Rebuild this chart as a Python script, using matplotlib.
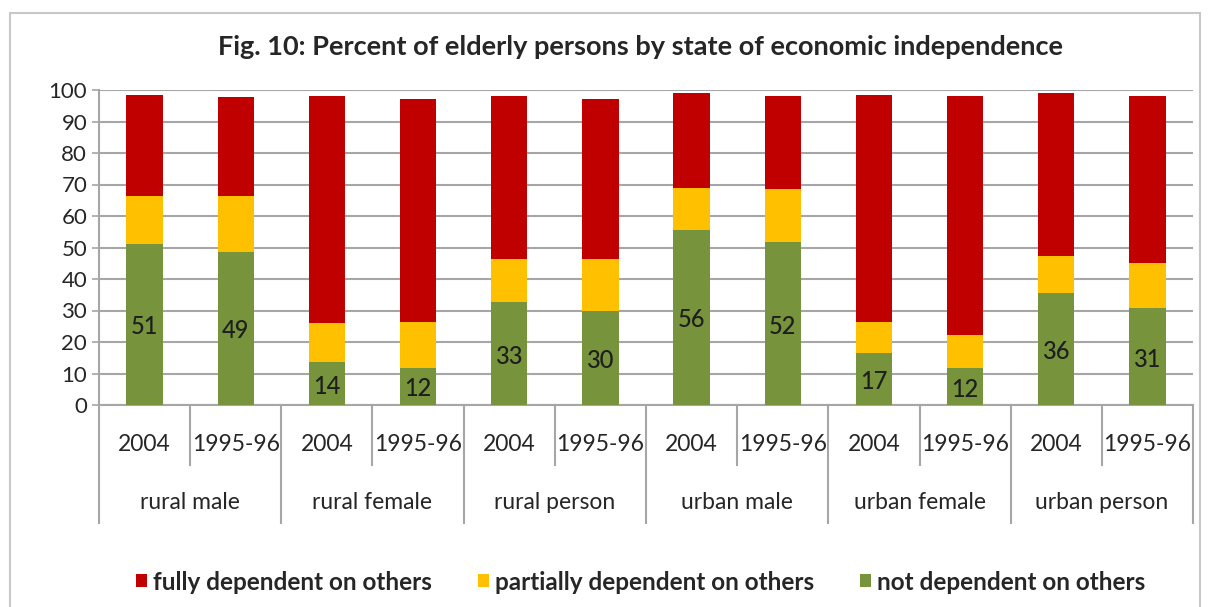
import matplotlib.pyplot as plt
from matplotlib.patches import Rectangle
from matplotlib.lines import Line2D
import numpy as np

plt.rcParams['font.family'] = ['Lato', 'DejaVu Sans']

groups = ["rural male", "rural female", "rural person",
          "urban male", "urban female", "urban person"]
years = ["2004", "1995-96"]

not_dep = [51.2, 48.6, 13.6, 11.8, 32.6, 30.0, 55.6, 51.6, 16.6, 11.6, 35.7, 30.8]
partial_dep = [15.2, 17.8, 12.5, 14.6, 13.7, 16.2, 13.4, 16.9, 9.8, 10.6, 11.6, 14.2]
full_dep = [32.0, 31.3, 72.0, 70.7, 51.9, 51.1, 30.0, 29.6, 72.0, 75.9, 51.7, 53.1]

c_full = "#C00000"
c_part = "#FFC000"
c_not = "#77933C"
grid_c = "#A6A6A6"
txt_c = "#262626"

fig = plt.figure(figsize=(12.09, 6.07), dpi=100)
ax = fig.add_axes([99 / 1209, 1 - 405 / 607, (1193 - 99) / 1209, 315 / 607])

n = len(not_dep)
x = np.arange(n)
bottom2 = np.array(not_dep) + np.array(partial_dep)
ax.bar(x, not_dep, width=0.4, color=c_not, zorder=3, label="not dependent on others")
ax.bar(x, partial_dep, width=0.4, bottom=not_dep, color=c_part, zorder=3,
       label="partially dependent on others")
ax.bar(x, full_dep, width=0.4, bottom=bottom2, color=c_full, zorder=3,
       label="fully dependent on others")

for xi, v in zip(x, not_dep):
    ax.text(xi, v / 2 - 0.8, f"{v:.0f}", ha="center", va="center",
            fontsize=17, color="#1E1E1E", zorder=4, fontweight="medium")

ax.set_xlim(-0.5, n - 0.5)
ax.set_ylim(0, 100)
ax.set_yticks(range(0, 101, 10))
ax.tick_params(axis="y", labelsize=16, colors=grid_c, labelcolor=txt_c, length=5, width=1.2)
ax.tick_params(axis="x", bottom=False, labelbottom=False)
ax.yaxis.grid(True, color=grid_c, linewidth=1.5, zorder=0)
for s in ["top", "right"]:
    ax.spines[s].set_visible(False)
for s in ["left", "bottom"]:
    ax.spines[s].set_color(grid_c)
    ax.spines[s].set_linewidth(1.5)

# multi-level category axis
tr = ax.get_xaxis_transform()
for i in range(n + 1):
    xb = i - 0.5
    low = -0.375 if i % 2 == 0 else -0.19
    ax.add_line(Line2D([xb, xb], [0, low], transform=tr, color=grid_c,
                       linewidth=1.5, clip_on=False))
for i in range(n):
    ax.text(i, -0.124, years[i % 2], transform=tr, ha="center", va="center",
            fontsize=16.5, color=txt_c)
for g, name in enumerate(groups):
    ax.text(2 * g + 0.5, -0.311, name, transform=tr, ha="center", va="center",
            fontsize=16.5, color=txt_c)

fig.text(0.530, 1 - 47 / 607,
         "Fig. 10: Percent of elderly persons by state of economic independence",
         ha="center", va="center", fontsize=19.5, fontweight="bold", color=txt_c)

handles, labels = ax.get_legend_handles_labels()
leg = fig.legend(handles[::-1], labels[::-1], loc="center", bbox_to_anchor=(0.530, 1 - 582 / 607),
                 ncol=3, frameon=False, handlelength=0.45, handleheight=0.45,
                 handletextpad=0.25, columnspacing=1.9, prop={"size": 17.5, "weight": "bold"})
for t in leg.get_texts():
    t.set_color(txt_c)

fig.patches.append(Rectangle((10 / 1209, -0.05), 1190 / 1209, 1 - 13 / 607 + 0.05,
                             transform=fig.transFigure, fill=False,
                             edgecolor="#C8C8C8", linewidth=1.5))

fig.savefig("out.png", dpi=100)
